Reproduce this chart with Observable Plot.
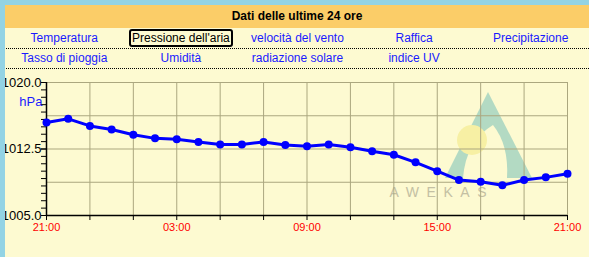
<!DOCTYPE html>
<html><head><meta charset="utf-8">
<script src="https://cdn.jsdelivr.net/npm/d3@7"></script>
<script src="https://cdn.jsdelivr.net/npm/@observablehq/plot@0.6"></script>
<style>
body{margin:0;width:589px;height:257px;overflow:hidden;background:#fdfad1;font-family:Arial,"Liberation Sans",sans-serif;position:relative}
#topbar{position:absolute;left:0;top:0;width:589px;height:5px;background:#93d3e4;z-index:5}
#leftbar{position:absolute;left:0;top:0;width:5px;height:257px;background:#93d3e4;z-index:5}
#header{position:absolute;left:5px;top:5px;width:584px;height:23px;background:#fbcd68;font-weight:bold;font-size:12px;text-align:center;line-height:23px;color:#000}
.row{position:absolute;left:6px;width:583px;height:19px;border-bottom:1px dotted #000;display:flex}
.row div{width:116.6px;flex:none;text-align:center;font-size:12px;color:#1a1aff;line-height:19px;white-space:nowrap}
.row span.sel{display:inline-block;border:2px solid #000;border-radius:3px;color:#000;line-height:14px;padding:0 1px}
#chart{position:absolute;left:0;top:69px}
</style>
</head><body>
<div id="topbar"></div><div id="leftbar"></div>
<div id="header"></div>
<div class="row" id="row1" style="top:29px"></div>
<div class="row" id="row2" style="top:49px"></div>
<div id="chart"></div>
<script>
const title = "Dati delle ultime 24 ore";
const linksRow1 = ["Temperatura", "Pressione dell'aria", "velocità del vento", "Raffica", "Precipitazione"];
const linksRow2 = ["Tasso di pioggia", "Umidità", "radiazione solare", "indice UV", ""];
const selectedLink = "Pressione dell'aria";
const unitLabel = "hPa";
const times = [
  "2024-01-01T21:00","2024-01-01T22:00","2024-01-01T23:00","2024-01-02T00:00","2024-01-02T01:00",
  "2024-01-02T02:00","2024-01-02T03:00","2024-01-02T04:00","2024-01-02T05:00","2024-01-02T06:00",
  "2024-01-02T07:00","2024-01-02T08:00","2024-01-02T09:00","2024-01-02T10:00","2024-01-02T11:00",
  "2024-01-02T12:00","2024-01-02T13:00","2024-01-02T14:00","2024-01-02T15:00","2024-01-02T16:00",
  "2024-01-02T17:00","2024-01-02T18:00","2024-01-02T19:00","2024-01-02T20:00","2024-01-02T21:00"];
const pressure = [1015.5, 1015.9, 1015.1, 1014.7, 1014.1, 1013.7, 1013.6, 1013.3, 1013.0, 1013.0,
  1013.3, 1012.95, 1012.8, 1013.0, 1012.7, 1012.25, 1011.85, 1011.0, 1010.0, 1009.0,
  1008.8, 1008.4, 1009.0, 1009.3, 1009.7];
const yDomain = [1005, 1020];
const yLabelTicks = [1005, 1012.5, 1020];
const yGridTicks = [1005, 1008.75, 1012.5, 1016.25, 1020];
const yMinorCount = 18;
const watermarkText = "AWEKAS";

document.getElementById("header").textContent = title;
function fillRow(id, items){
  const row = document.getElementById(id);
  items.forEach(t => {
    const c = document.createElement("div");
    if (t === selectedLink) { const s = document.createElement("span"); s.className = "sel"; s.textContent = t; c.appendChild(s); }
    else c.textContent = t;
    row.appendChild(c);
  });
}
fillRow("row1", linksRow1); fillRow("row2", linksRow2);

const dates = times.map(s => new Date(s));
const data = dates.map((d, i) => ({time: d, value: pressure[i]}));
const xTicks = dates.filter((d, i) => i % 2 === 0);
const xLabels = dates.filter((d, i) => i % 6 === 0);
const yMinor = d3.range(yMinorCount + 1).map(i => yDomain[0] + i * (yDomain[1] - yDomain[0]) / yMinorCount);
const fmt = d3.timeFormat("%H:%M");
const gridColor = "#aba77f";

const svg = Plot.plot({
  width: 589, height: 188,
  marginLeft: 46, marginRight: 22, marginTop: 13, marginBottom: 42,
  style: {background: "transparent", fontFamily: "Arial, 'Liberation Sans', sans-serif", overflow: "visible"},
  x: {type: "time", domain: [dates[0], dates[dates.length - 1]], axis: null},
  y: {domain: yDomain, axis: null},
  marks: [
    Plot.gridX(xTicks, {stroke: gridColor, strokeOpacity: 1}),
    Plot.gridY(yGridTicks, {stroke: gridColor, strokeOpacity: 1}),
    Plot.ruleY([yDomain[0]], {stroke: "#000", strokeWidth: 1.5}),
    Plot.ruleX([dates[0]], {stroke: "#000", strokeWidth: 1.5}),
    Plot.axisY(yMinor, {tickSize: 5, tickFormat: () => "", stroke: "#000", label: null}),
    Plot.axisY(yLabelTicks, {tickSize: 5, tickPadding: 0, tickFormat: d => d.toFixed(1), fill: "#000", fontSize: 13, label: null}),
    Plot.axisX(xTicks, {tickSize: 5, tickFormat: () => "", stroke: "#000", label: null}),
    Plot.axisX(xLabels, {tickSize: 0, tickPadding: 8, tickFormat: fmt, fill: "#ff0000", fontSize: 11, label: null}),
    Plot.text([unitLabel], {frameAnchor: "top-left", dx: -4, dy: 14, textAnchor: "end", fill: "#1a1aff", fontSize: 13}),
    Plot.line(data, {x: "time", y: "value", dy: 5, stroke: "#6f6840", strokeOpacity: 0.45, strokeWidth: 5, ariaLabel: "shadow"}),
    Plot.line(data, {x: "time", y: "value", stroke: "#0000ff", strokeWidth: 3}),
    Plot.dot(data, {x: "time", y: "value", r: 4, fill: "#0000ff", stroke: "none"})
  ]
});
d3.select(svg).select('g[aria-label="shadow"]').style("filter", "blur(2.5px)");

// AWEKAS watermark (decorative)
const wm = d3.select(svg).insert("g", ":first-child");
wm.append("path").attr("d", "M488,23 L445,109 L532,109 Z").attr("fill", "#b3dac3");
wm.append("path").attr("d", "M463,109 Q466,72 493,56 Q509,76 507,109 Z").attr("fill", "#fdfad1");
wm.append("circle").attr("cx", 472).attr("cy", 71).attr("r", 15).attr("fill", "#f7f0a4");
wm.append("text").attr("x", 438).attr("y", 128).attr("textLength", 97).attr("lengthAdjust", "spacing")
  .attr("font-size", 14).attr("fill", "#c4c0a3").attr("font-family", "Arial, 'Liberation Sans', sans-serif")
  .text(watermarkText);
document.getElementById("chart").appendChild(svg);
</script>
</body></html>
